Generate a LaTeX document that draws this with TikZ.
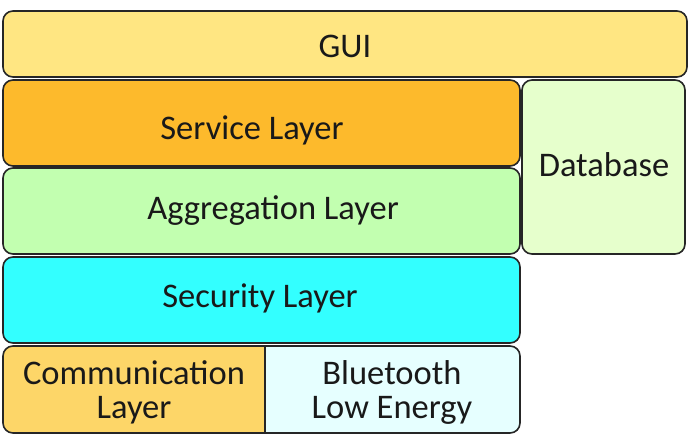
\documentclass[tikz,border=0pt]{standalone}
\usepackage{fontspec}
\setmainfont{Carlito}
\begin{document}
\begin{tikzpicture}[x=1pt,y=-1pt,
  layer/.style={draw=black!85,line width=1.6pt,rounded corners=10pt},
  lbl/.style={font=\fontsize{34.5}{34}\selectfont,text=black!90,align=center,inner sep=0pt}]
\definecolor{guic}{RGB}{255,230,130}
\definecolor{servc}{RGB}{253,186,44}
\definecolor{aggc}{RGB}{194,255,176}
\definecolor{dbc}{RGB}{230,255,204}
\definecolor{secc}{RGB}{51,255,255}
\definecolor{comc}{RGB}{253,214,104}
\definecolor{blec}{RGB}{230,255,255}
\useasboundingbox (0,0) rectangle (691,436);
\draw[layer,fill=guic] (3,11) rectangle (687,77);
\node[lbl] (gui) at (345,46) {GUI};
\draw[layer,fill=servc] (3,80) rectangle (520,166);
\node[lbl] (serv) at (252,130) {Service Layer};
\draw[layer,fill=aggc] (3,168) rectangle (520,254);
\node[lbl] (agg) at (273,211) {Aggregation Layer};
\draw[layer,fill=dbc] (522,80) rectangle (685,254);
\node[lbl] (db) at (604,165) {Database};
\draw[layer,fill=secc] (3,257) rectangle (520,343);
\node[lbl] (sec) at (260,298) {Security Layer};
\draw[layer,fill=comc] (265,346) -- (3,346) -- (3,433) -- (265,433);
\draw[layer,fill=blec] (265,346) -- (520,346) -- (520,433) -- (265,433);
\draw[draw=black!85,line width=1.6pt] (265,346) -- (265,433);
\node[lbl] (com) at (134,392) {Communication\\Layer};
\node[lbl] (ble) at (392,392) {Bluetooth\\Low Energy};
\end{tikzpicture}
\end{document}
